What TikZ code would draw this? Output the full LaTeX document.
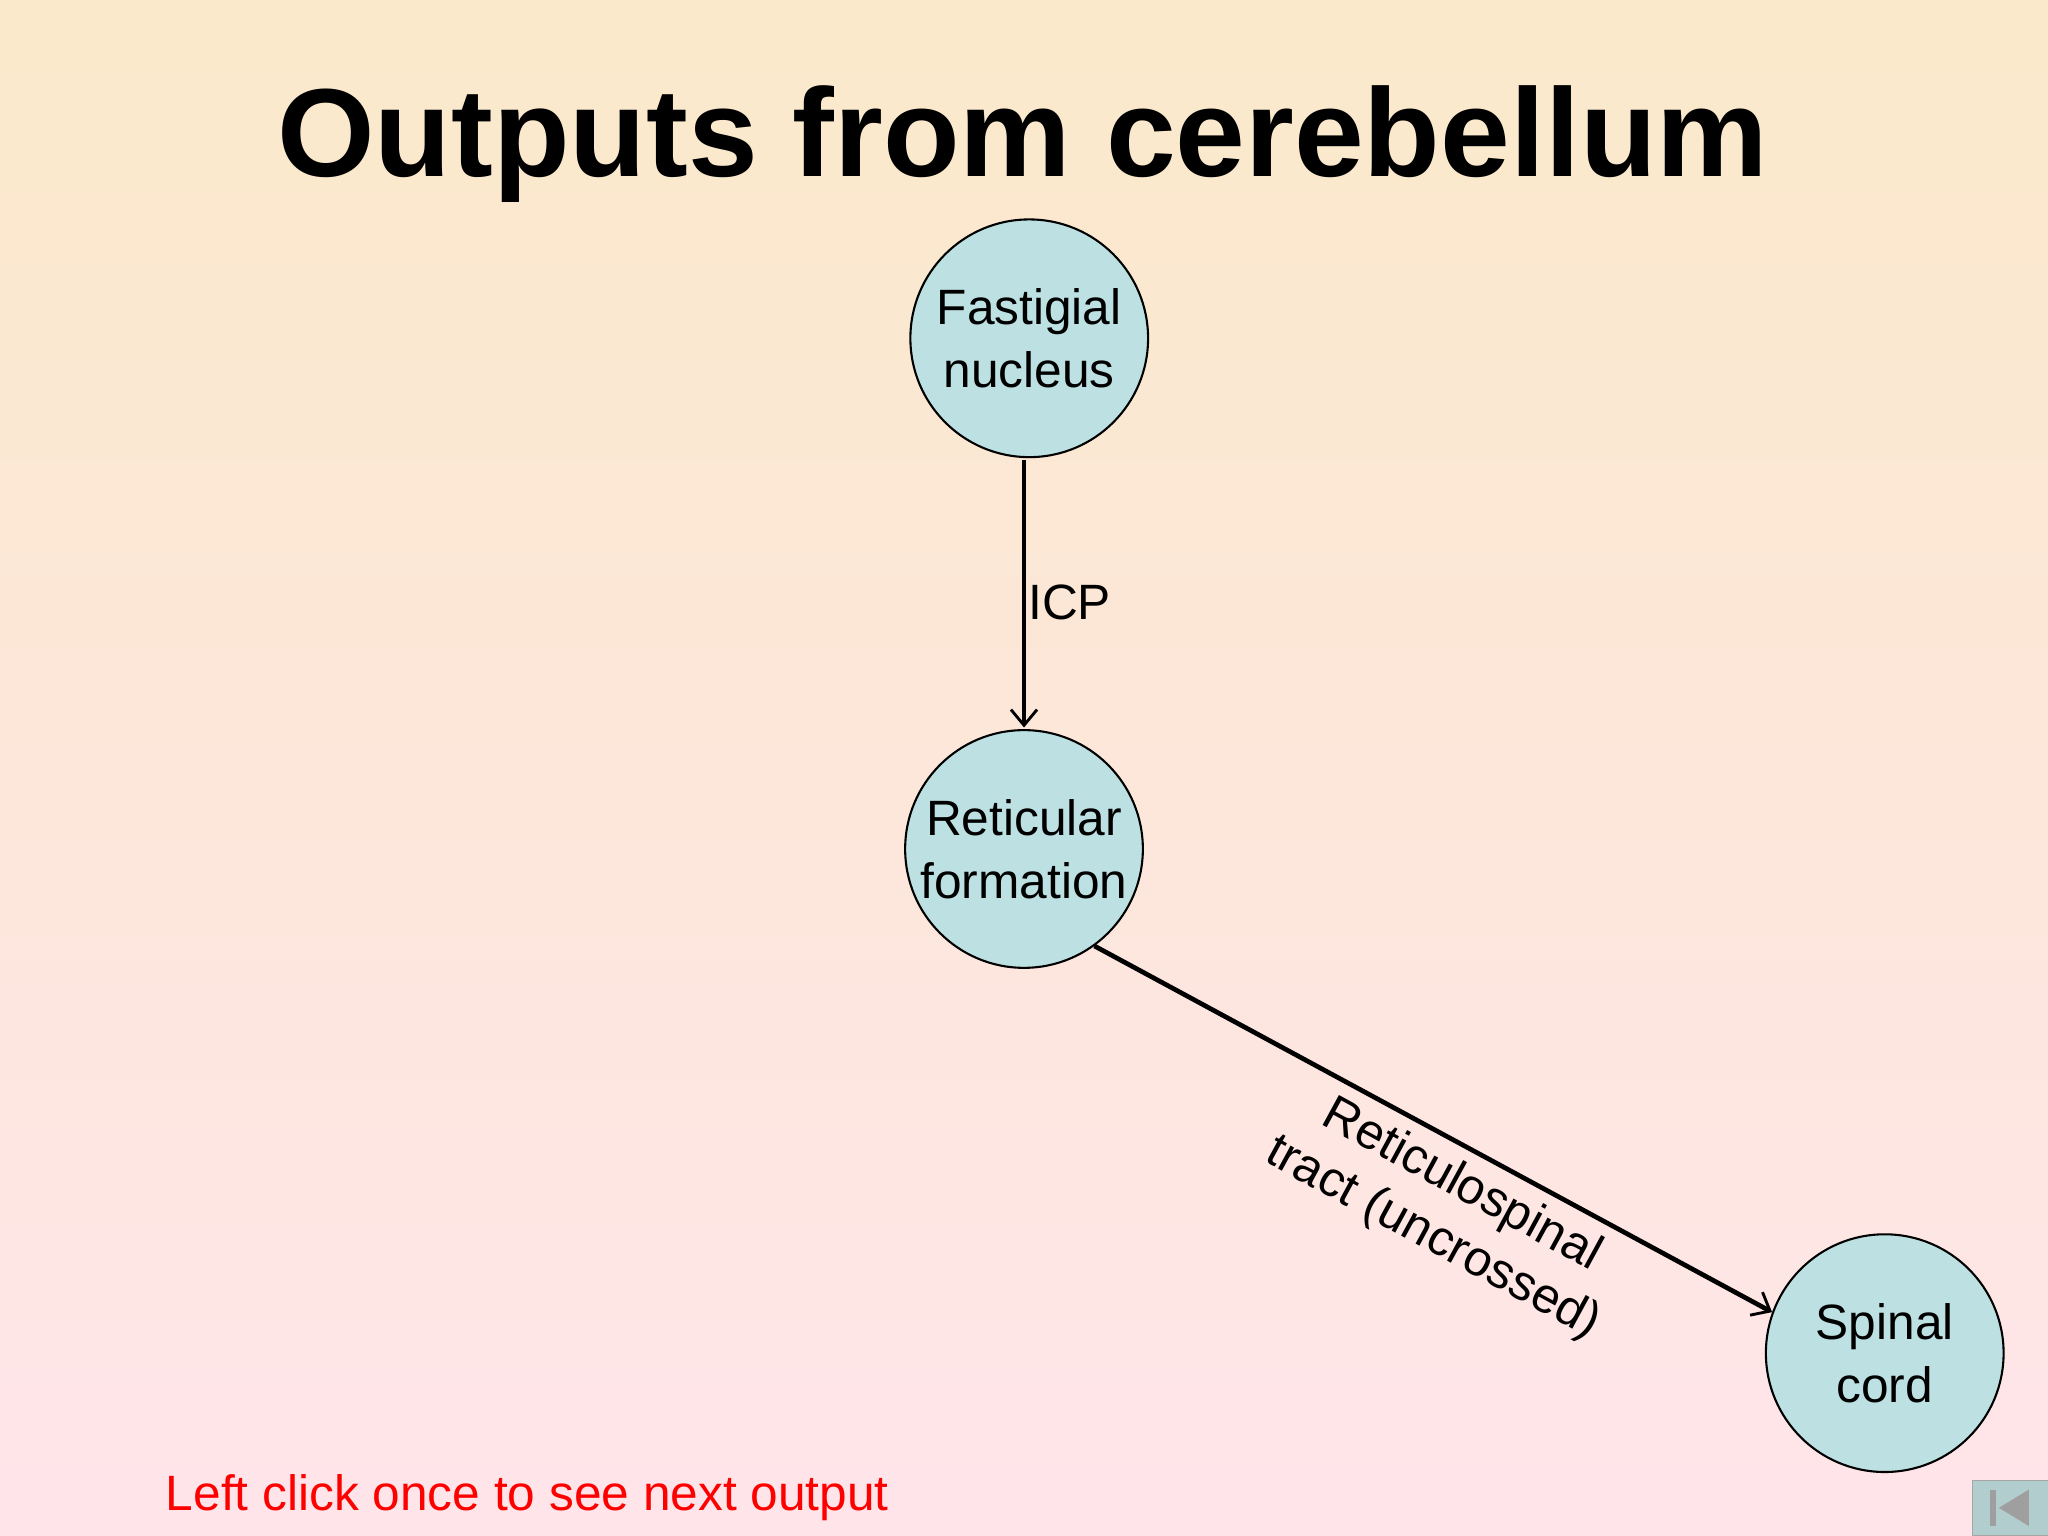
\documentclass[tikz,border=0pt]{standalone}
\usepackage{fontspec}
\setmainfont{Liberation Sans}
\usetikzlibrary{arrows.meta,calc}
\definecolor{bgtop}{HTML}{FAE9CA}
\definecolor{bgbot}{HTML}{FFE5EA}
\definecolor{nodefill}{HTML}{BDE1E2}
\begin{document}
\begin{tikzpicture}[x=0.5pt,y=-0.5pt,
  circ/.style={circle,draw=black,line width=0.8pt,fill=nodefill,minimum size=91pt,inner sep=0pt,align=center,font=\fontsize{19}{24}\selectfont},
  conn/.style={line width=1.8pt,-{Straight Barb[length=6pt,width=10pt,line width=1.1pt]}},
  lbl/.style={font=\fontsize{19}{23}\selectfont,align=center}]
\shade[top color=bgtop,bottom color=bgbot] (0,0) rectangle (1568,1176);
\useasboundingbox (0,0) rectangle (1568,1176);
\node[font=\fontsize{48}{56}\selectfont\bfseries] (title) at (783,110) {Outputs from cerebellum};
\node[circ] (fn) at (788,259) {Fastigial\\nucleus};
\node[circ] (rf) at (784,650) {Reticular\\formation};
\node[circ] (sc) at (1443,1036) {Spinal\\cord};
\draw[conn] (784,352) coordinate (a) -- (784,557) coordinate (b);
\node[lbl] (icp) at (819,461) {ICP};
\draw[conn] (rf.-54) -- (sc.160);
\node[lbl,rotate=-28.6] (rst) at (1108,928) {Reticulospinal\\tract (uncrossed)};
\node[anchor=west,text=red,font=\fontsize{19}{23}\selectfont] (hint) at (120,1147) {Left click once to see next output};
\node[draw=gray!70,fill=nodefill!80!gray,minimum width=29pt,minimum height=21pt,inner sep=0pt,anchor=north west] (btn) at (1510,1133) {};
\fill[gray!75] ($(btn.center)+(-16,-14)$) rectangle ($(btn.center)+(-11,14)$);
\fill[gray!75] ($(btn.center)+(-9,0)$) -- ($(btn.center)+(14,-14)$) -- ($(btn.center)+(14,14)$) -- cycle;
\end{tikzpicture}
\end{document}
